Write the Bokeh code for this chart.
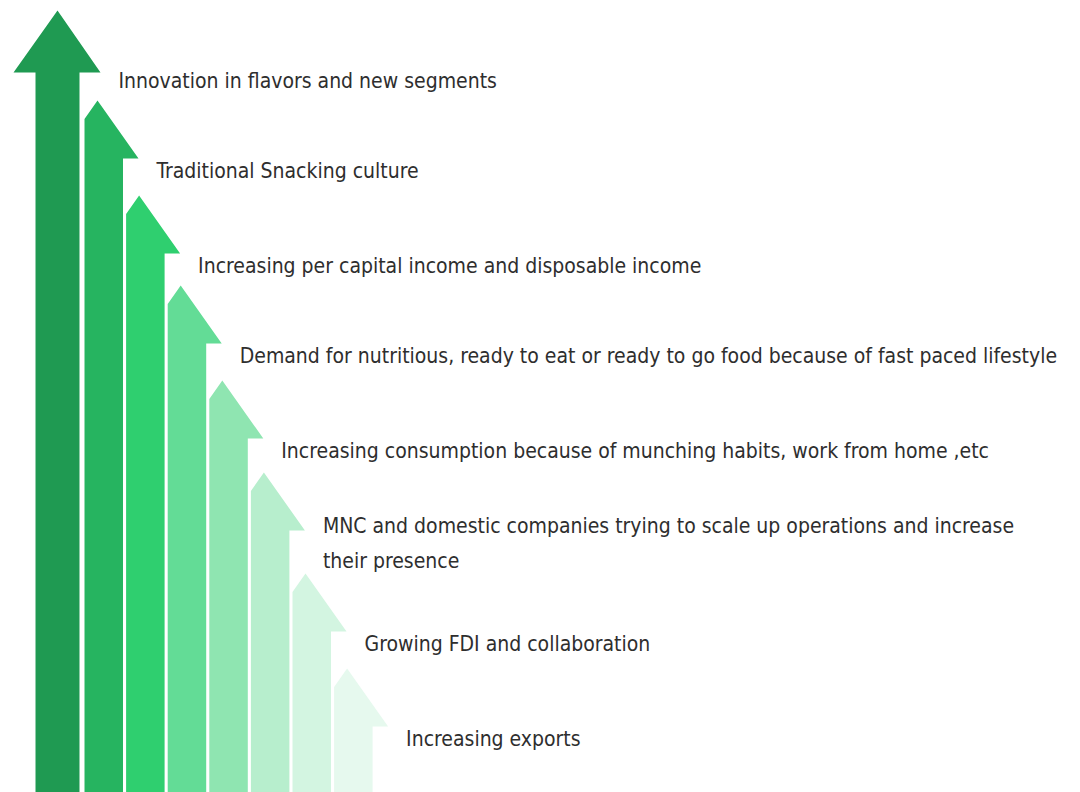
from bokeh.plotting import figure
from bokeh.models import Range1d
from bokeh.core.properties import value
from bokeh.embed import file_html
from bokeh.resources import INLINE

# Drivers of growth, from top (longest arrow) to bottom (shortest arrow)
labels = [
    "Innovation in flavors and new segments",
    "Traditional Snacking culture",
    "Increasing per capital income and disposable income",
    "Demand for nutritious, ready to eat or ready to go food because of fast paced lifestyle",
    "Increasing consumption because of munching habits, work from home ,etc",
    "MNC and domestic companies trying to scale up operations and increase\ntheir presence",
    "Growing FDI and collaboration",
    "Increasing exports",
]
# arrow tip heights (px above the bottom edge)
arrow_heights = [782, 692, 597, 507, 412, 320, 219, 124]

colors = ["#1f9a52", "#26b460", "#2fcf6f", "#63dc96", "#8fe5b1",
          "#b7eecd", "#d3f5e1", "#e6f9ee"]

W, H = 1080, 792
p = figure(width=W, height=H, x_range=Range1d(0, W), y_range=Range1d(0, H),
           output_backend="svg", toolbar_location=None, min_border=0)
p.axis.visible = False
p.grid.visible = False
p.outline_line_color = None
p.background_fill_color = "white"
p.border_fill_color = "white"

xs, ys = [], []
tx_list, ty_list, tt_list = [], [], []
head_h = 58
for i, top in enumerate(arrow_heights):
    if i == 0:
        xl, xr = 35, 79
        tipx = 57
        base = top - 62
        xs.append([xl, xl, 13, tipx, 100, xr, xr])
        ys.append([0, base, base, top, base, base, 0])
        head_right = 100
    else:
        xl = 84 + 41.6 * (i - 1)
        xr = xl + 38.5
        tipx = xl + 13
        head_right = tipx + 41
        base = top - head_h
        yl = top - head_h * 13 / 41
        xs.append([xl, xl, tipx, head_right, xr, xr])
        ys.append([0, yl, top, base, base, 0])
    lines = labels[i].split("\n")
    base_y = top - 70 + (len(lines) - 1) * 17
    for k, ln in enumerate(lines):
        tx_list.append(head_right + 18)
        ty_list.append(base_y - k * 35)
        tt_list.append(ln)

p.patches(xs, ys, fill_color=colors, line_color=None)
p.text(x=tx_list, y=ty_list, text=tt_list,
       text_font=value("'DejaVu Sans Condensed', 'Liberation Sans Narrow', 'Roboto Condensed', 'Open Sans Condensed', 'Noto Sans'"),
       text_font_size="21px", text_color="#2e2e2e", text_baseline="alphabetic",
       text_align="left")

open("out.html", "w").write(file_html(p, INLINE))
